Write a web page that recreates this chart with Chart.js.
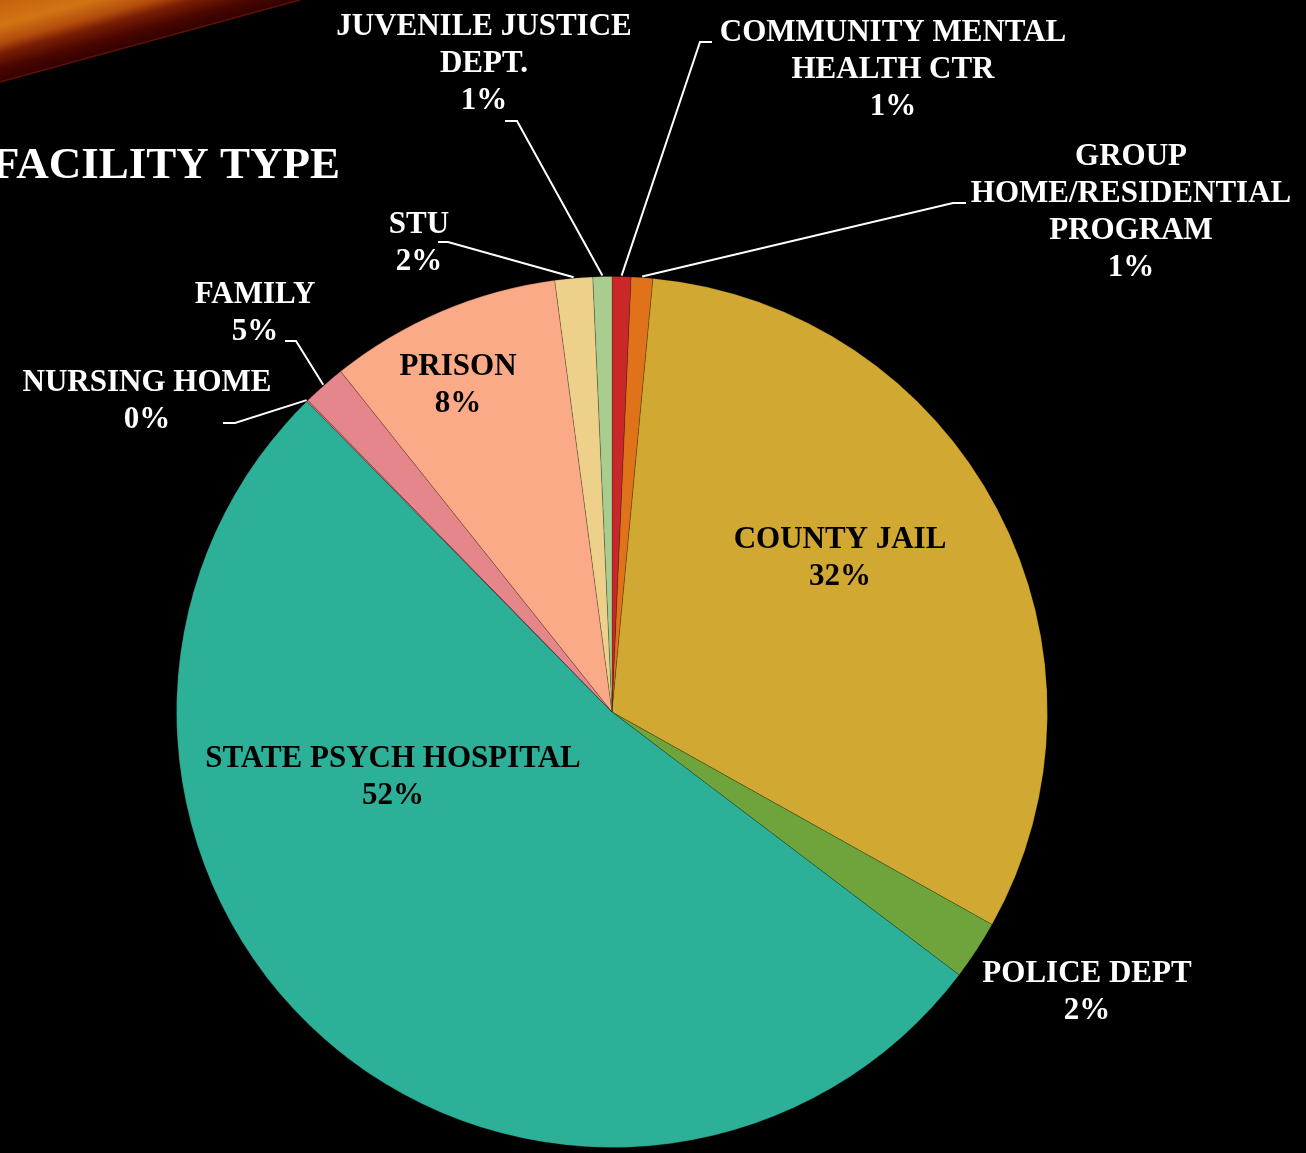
<!DOCTYPE html>
<html lang="en">
<head>
  <meta charset="UTF-8" />
  <title>Facility Type</title>
  <script src="https://cdn.jsdelivr.net/npm/chart.js"></script>
  <style>
    body {
      margin: 0;
      background: #000;
      overflow: hidden;
    }
    canvas {
      display: block;
    }
  </style>
</head>
<body>

<canvas id="graficoPie" width="1306" height="1153"></canvas>

<script>
  // Datos (en el orden de las agujas del reloj desde las 12)
  const categories = [
    ['COMMUNITY MENTAL', 'HEALTH CTR'],
    ['GROUP', 'HOME/RESIDENTIAL', 'PROGRAM'],
    ['COUNTY JAIL'],
    ['POLICE DEPT'],
    ['STATE PSYCH HOSPITAL'],
    ['NURSING HOME'],
    ['FAMILY'],
    ['PRISON'],
    ['STU'],
    ['JUVENILE JUSTICE', 'DEPT.']
  ];
  const values = [0.7, 0.8, 31.6, 2.2, 52.3, 0.05, 1.6, 8.6, 1.4, 0.7];
  const pctLabels = ['1%', '1%', '32%', '2%', '52%', '0%', '5%', '8%', '2%', '1%'];
  const colores = ['#C9282A', '#E0731A', '#D0A832', '#6FA33B', '#2DB098', '#E4868A', '#E4868A', '#FBAA87', '#EDD08A', '#A9CD8E'];

  // Posición de las etiquetas (centro del texto, primera línea) y tramo horizontal de la guía
  const etiquetas = [
    { x: 893, y: 33, color: '#fff', guia: [712, 700, 42] },
    { x: 1131, y: 157, color: '#fff', guia: [966, 953, 203] },
    { x: 840, y: 540, color: '#000' },
    { x: 1087, y: 974, color: '#fff' },
    { x: 393, y: 759, color: '#000' },
    { x: 147, y: 383, color: '#fff', guia: [223, 235, 423] },
    { x: 255, y: 295, color: '#fff', guia: [285, 296, 341] },
    { x: 458, y: 367, color: '#000' },
    { x: 419, y: 225, color: '#fff', guia: [438, 448, 242] },
    { x: 484, y: 27, color: '#fff', guia: [505, 517, 121] }
  ];

  const fuente = 'bold 31px "Liberation Serif", "Times New Roman", serif';
  const interlinea = 37;

  // Fondo: franja decorativa y título
  const fondoPlugin = {
    id: 'fondo',
    beforeDraw(chart) {
      const ctx = chart.ctx;
      ctx.save();
      ctx.fillStyle = '#000';
      ctx.fillRect(0, 0, chart.width, chart.height);

      const g = ctx.createLinearGradient(0, 0, 22, 80);
      g.addColorStop(0, '#c8600f');
      g.addColorStop(0.3, '#d27414');
      g.addColorStop(0.5, '#b24c0c');
      g.addColorStop(0.62, '#7a1e05');
      g.addColorStop(0.8, '#4a0600');
      g.addColorStop(1, '#2a0000');
      ctx.beginPath();
      ctx.moveTo(0, 0);
      ctx.lineTo(300, 0);
      ctx.lineTo(0, 82);
      ctx.closePath();
      ctx.fillStyle = g;
      ctx.fill();

      ctx.strokeStyle = 'rgba(140, 30, 10, 0.6)';
      ctx.lineWidth = 1.5;
      ctx.beginPath();
      ctx.moveTo(300, 0);
      ctx.lineTo(0, 82);
      ctx.stroke();

      ctx.font = 'bold 45px "Liberation Serif", "Times New Roman", serif';
      ctx.fillStyle = '#fff';
      ctx.textAlign = 'left';
      ctx.textBaseline = 'alphabetic';
      ctx.fillText('FACILITY TYPE', -8, 178);
      ctx.restore();
    }
  };

  // Etiquetas de datos con líneas guía
  const etiquetasPlugin = {
    id: 'etiquetas',
    afterDraw(chart) {
      const ctx = chart.ctx;
      const meta = chart.getDatasetMeta(0);
      ctx.save();
      ctx.font = fuente;
      ctx.textAlign = 'center';
      ctx.textBaseline = 'middle';

      meta.data.forEach((arc, i) => {
        const e = etiquetas[i];
        if (e.guia) {
          const p = arc.getProps(['x', 'y', 'startAngle', 'endAngle', 'outerRadius'], true);
          const mid = (p.startAngle + p.endAngle) / 2;
          const ax = p.x + Math.cos(mid) * (p.outerRadius + 1);
          const ay = p.y + Math.sin(mid) * (p.outerRadius + 1);
          ctx.strokeStyle = '#fff';
          ctx.lineWidth = 2;
          ctx.beginPath();
          ctx.moveTo(e.guia[0], e.guia[2]);
          ctx.lineTo(e.guia[1], e.guia[2]);
          ctx.lineTo(ax, ay);
          ctx.stroke();
        }
        const lineas = categories[i].concat([pctLabels[i]]);
        ctx.fillStyle = e.color;
        lineas.forEach((t, k) => {
          ctx.fillText(t, e.x, e.y + k * interlinea);
        });
      });
      ctx.restore();
    }
  };

  new Chart(document.getElementById('graficoPie').getContext('2d'), {
    type: 'pie',
    data: {
      labels: categories,
      datasets: [{
        data: values,
        backgroundColor: colores,
        borderColor: 'rgba(0, 0, 0, 0.2)',
        borderWidth: 1,
        hoverOffset: 0
      }]
    },
    options: {
      responsive: false,
      animation: false,
      layout: {
        padding: { top: 276, bottom: 5, left: 176, right: 258 }
      },
      plugins: {
        legend: { display: false },
        tooltip: { enabled: false }
      }
    },
    plugins: [fondoPlugin, etiquetasPlugin]
  });
</script>

</body>
</html>
